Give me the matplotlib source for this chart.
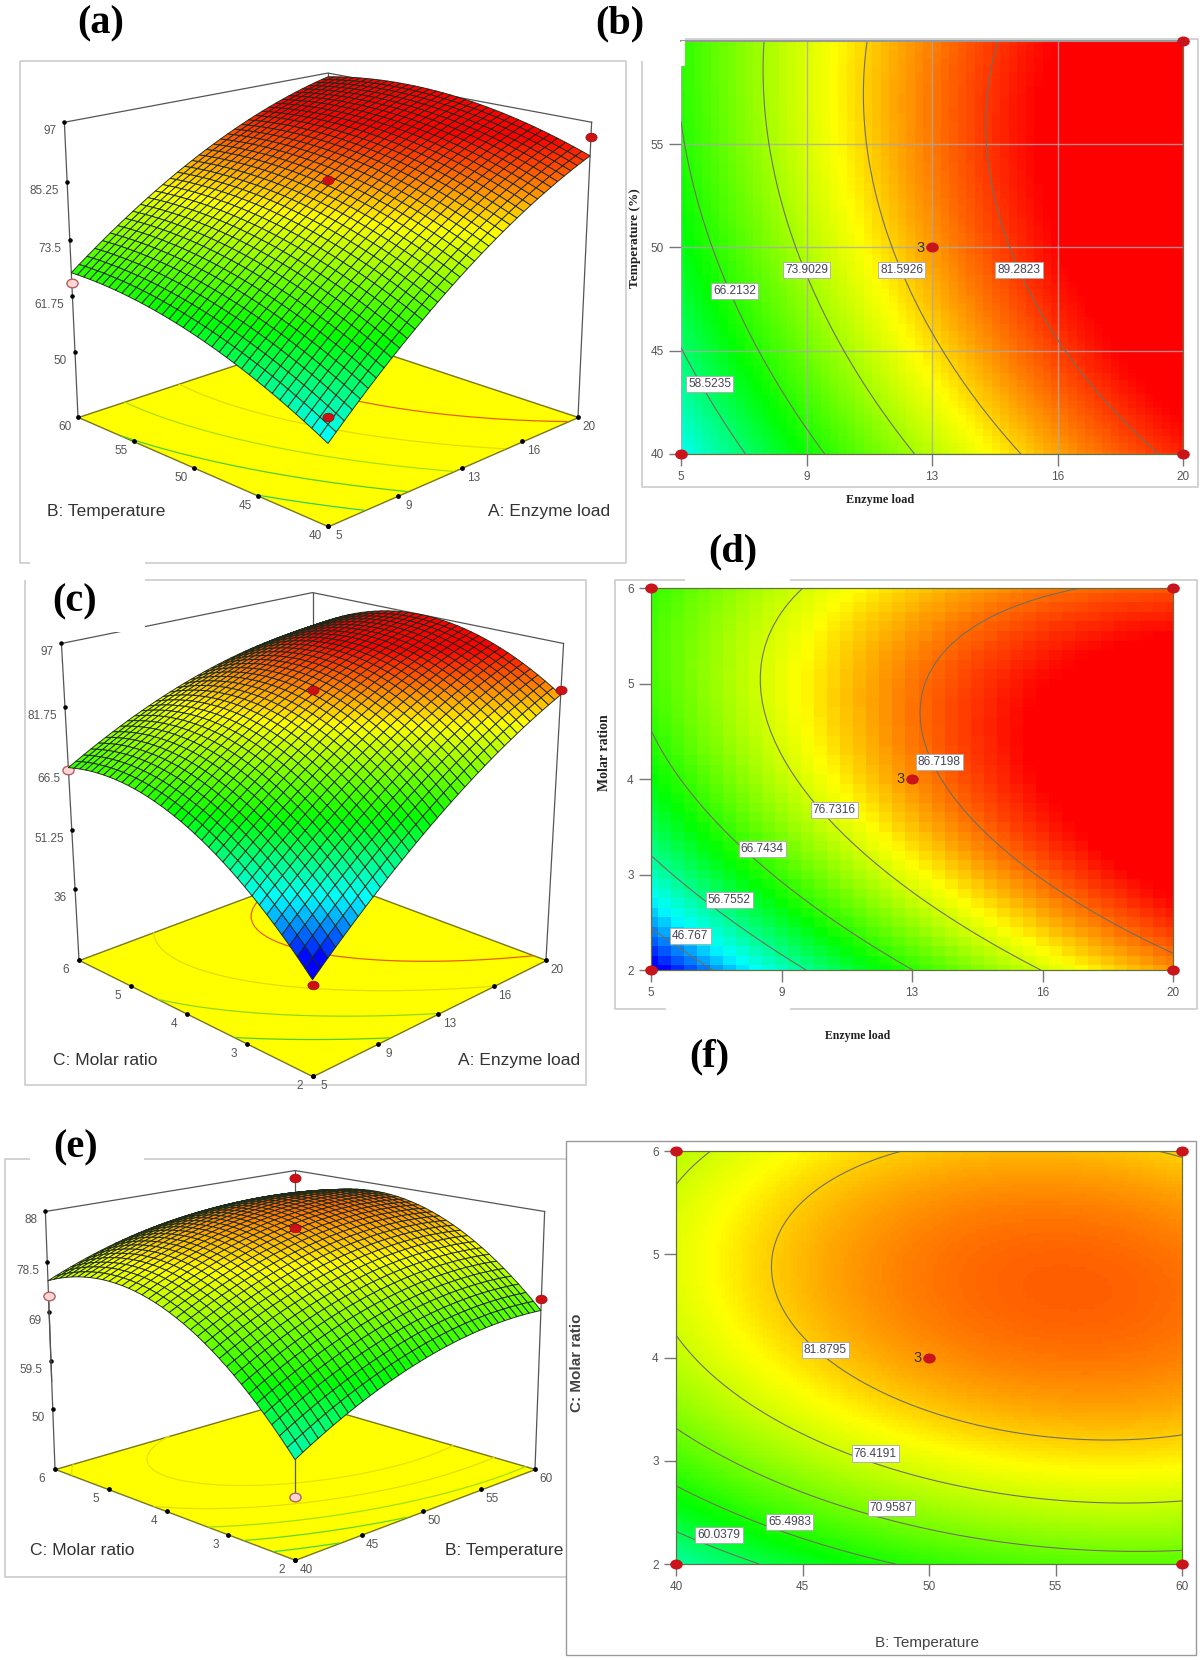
# encoding=utf-8
import matplotlib
matplotlib.use('Agg')
import matplotlib.pyplot as plt
import numpy as np
from matplotlib.colors import LinearSegmentedColormap, Normalize
from matplotlib.patches import Rectangle
from matplotlib.path import Path
from matplotlib.transforms import Affine2D
from mpl_toolkits.mplot3d import proj3d

W, H = 1200, 1660

# factor levels, tick labels are rounded the way the picture shows them
enzyme = [5, 8.75, 12.5, 16.25, 20]
enzyme_labels = ['5', '9', '13', '16', '20']
temperature = [40, 45, 50, 55, 60]
temperature_labels = ['40', '45', '50', '55', '60']
molar = [2, 3, 4, 5, 6]
molar_labels = ['2', '3', '4', '5', '6']

# response, rows go with the y factor, columns with x
yield_ab = [[51.5, 64.0, 75.5, 84.5, 90.5],
            [58.0, 71.0, 81.0, 88.8, 94.0],
            [63.5, 75.0, 84.3, 91.7, 97.0],
            [66.2, 77.0, 85.8, 93.0, 98.0],
            [66.5, 77.2, 85.3, 92.0, 96.5]]
yield_ac = [[41.0, 53.0, 66.0, 76.5, 85.0],
            [55.0, 66.5, 79.5, 88.5, 93.5],
            [62.5, 75.2, 85.2, 92.5, 96.5],
            [69.0, 78.5, 85.8, 91.5, 94.5],
            [66.5, 75.8, 82.5, 85.5, 88.0]]
yield_bc = [[55.5, 63.0, 66.0, 68.5, 69.5],
            [68.0, 74.0, 78.0, 80.0, 79.5],
            [75.0, 81.0, 85.0, 86.5, 86.0],
            [77.5, 83.0, 86.0, 87.0, 86.5],
            [75.5, 79.5, 82.0, 83.0, 81.0]]

levels_b = [58.5235, 66.2132, 73.9029, 81.5926, 89.2823]
levels_d = [46.767, 56.7552, 66.7434, 76.7316, 86.7198]
levels_f = [60.0379, 65.4983, 70.9587, 76.4191, 81.8795]

# colours of the contour lines on the yellow floors
floor_a = ['#30d060', '#50d020', '#a8e000', '#e8d800', '#e86000']
floor_c = ['#50d020', '#90d810', '#e8d800', '#e86000']
floor_e = ['#40d840', '#60d820', '#a0e000', '#e0e000', '#ece000']

# contour label anchors
label_x_b = [5.86, 6.6, 8.75, 11.6, 15.1]
label_y_b = [43.4, 47.9, 48.9, 48.9, 48.9]
label_x_d = [6.13, 7.25, 8.2, 10.26, 13.28]
label_y_d = [2.36, 2.73, 3.27, 3.68, 4.18]
label_x_f = [41.7, 44.5, 48.5, 47.87, 45.9]
label_y_f = [2.28, 2.41, 2.54, 3.07, 4.07]

# design points in the 3D views: x, y, z, filled
points_a = [(5, 40, 56.5, True), (20, 40, 94, True), (5, 60, 64.5, False), (12.5, 50, 85.5, True)]
points_c = [(5, 2, 38.5, True), (20, 2, 86, True), (5, 6, 66.5, False), (12.5, 4, 86, True)]
points_e = [(40, 2, 49, False), (60, 2, 71.5, True), (40, 6, 72, False), (50, 4, 85, True), (60, 6, 86.5, True)]

ztick_a = [50, 61.75, 73.5, 85.25, 97]
ztick_c = [36, 51.25, 66.5, 81.75, 97]
ztick_e = [50, 59.5, 69, 78.5, 88]

plt.rcParams['font.family'] = ['Liberation Sans', 'DejaVu Sans']

stops = [41, 51, 64, 79.5, 92]
cols = ['#0000ff', '#00ffff', '#00ff00', '#ffff00', '#ff0000']
norm = Normalize(stops[0], stops[-1])
cm = LinearSegmentedColormap.from_list('de', [((s - stops[0]) / (stops[-1] - stops[0]), c) for s, c in zip(stops, cols)])
oval = Path.unit_circle().transformed(Affine2D().scale(1.3, 1))

fig = plt.figure(figsize=(W / 100, H / 100), dpi=100, facecolor='w')
bg = fig.add_axes([0, 0, 1, 1], zorder=0)
ov = fig.add_axes([0, 0, 1, 1], zorder=10)
for a in (bg, ov):
    a.set_xlim(0, W)
    a.set_ylim(H, 0)
    a.set_axis_off()
    a.patch.set_visible(False)


def smooth_mesh(grid, xs, ys, n):
    # the chart is a second order response surface, so the read grid is
    # resampled through a least squares quadratic for drawing the fine mesh
    gx, gy = np.meshgrid(xs, ys)
    def terms(a, b):
        return np.column_stack([np.ones(a.size), a, b, a * b, a * a, b * b])
    coef = np.linalg.lstsq(terms(gx.ravel(), gy.ravel()), np.array(grid, float).ravel(), rcond=None)[0]
    fx, fy = np.meshgrid(np.linspace(xs[0], xs[-1], n), np.linspace(ys[0], ys[-1], n))
    return fx, fy, (terms(fx.ravel(), fy.ravel()) @ coef).reshape(fx.shape)


def to_px(ax, x, y, z):
    M = ax.get_proj()
    a, b, _ = proj3d.proj_transform(x, y, z, M)
    d = ax.transData.transform((a, b))
    return d[0], H - d[1]


def set_square(ax, cx, cy, s):
    ax.set_position([(cx - s / 2) / W, 1 - (cy + s / 2) / H, s / W, s / H])
    ax.apply_aspect()


def fit_view(ax, x, y, zf, left, right):
    # scale and move the square axes until the floor corners land on the target pixels
    cx, cy, s = 300.0, 300.0, 600.0
    set_square(ax, cx, cy, s)
    for i in range(3):
        p0 = to_px(ax, x[0], y[-1], zf)
        p1 = to_px(ax, x[-1], y[0], zf)
        s = s * (right[0] - left[0]) / (p1[0] - p0[0])
        set_square(ax, cx, cy, s)
        p0 = to_px(ax, x[0], y[-1], zf)
        cx += left[0] - p0[0]
        cy += left[1] - p0[1]
        set_square(ax, cx, cy, s)


def panel_3d(grid, x, y, xl, yl, zf, zt, zticks, levels, floor_cols, points, elev, focal, hz, left, right, stem=False):
    ax = fig.add_axes([0, 0, .5, .5], projection='3d', computed_zorder=False, zorder=1)
    ax.set_proj_type('persp', focal_length=focal)
    ax.view_init(elev=elev, azim=225)
    ax.set_box_aspect((1, 1, hz))
    ax.set_xlim(x[0], x[-1])
    ax.set_ylim(y[0], y[-1])
    ax.set_zlim(zf, zt)
    ax.set_axis_off()
    ax.patch.set_visible(False)
    fit_view(ax, x, y, zf, left, right)
    X, Y, Z = smooth_mesh(grid, x, y, 37)
    # floor and floor contours
    fx, fy = np.meshgrid([x[0], x[-1]], [y[0], y[-1]])
    ax.plot_surface(fx, fy, np.full(fx.shape, zf), color='#ffff00', shade=False, edgecolor='#77771c', linewidth=1, zorder=1)
    ax.contour(X, Y, Z, levels=levels, zdir='z', offset=zf, colors=floor_cols, linewidths=.9, zorder=1.5)
    # walls
    wall = '#555555'
    ax.plot([x[0], x[0], x[-1], x[-1]], [y[-1], y[-1], y[-1], y[0]], [zf, zt, zt, zt], color=wall, lw=.9, zorder=2)
    ax.plot([x[-1], x[-1]], [y[0], y[0]], [zf, zt], color=wall, lw=.9, zorder=2)
    ax.plot([x[-1], x[-1]], [y[-1], y[-1]], [zf, zt], color=wall, lw=.9, zorder=2)
    # tick dots
    ax.scatter([x[0]] * 5, [y[-1]] * 5, zticks, c='k', s=5, depthshade=False, zorder=2.2)
    ax.scatter(x, [y[0]] * 5, [zf] * 5, c='k', s=6, depthshade=False, zorder=2.2)
    ax.scatter([x[0]] * 5, y, [zf] * 5, c='k', s=6, depthshade=False, zorder=2.2)
    for p in points:
        if not p[3]:
            ax.scatter([p[0]], [p[1]], [p[2]], s=65, marker=oval, c='#ffd5d5', edgecolors='#b06060', depthshade=False, zorder=2.5)
            if stem:
                ax.plot([p[0], p[0]], [p[1], p[1]], [p[2], Z[0, 0]], color=wall, lw=.9, zorder=2.4)
    ax.plot_surface(X, Y, Z, facecolors=cm(norm(Z)), rstride=1, cstride=1, shade=False, edgecolor='#1a2a1a', linewidth=.65, zorder=3)
    for p in points:
        if p[3]:
            ax.scatter([p[0]], [p[1]], [p[2]], s=65, marker=oval, c='#d00f14', edgecolors='#8a1010', linewidths=.5, depthshade=False, zorder=4)
    # tick labels go in pixels next to the projected ticks
    tc = '#555555'
    for v in zticks:
        a, b = to_px(ax, x[0], y[-1], v)
        ov.text(a - 8, b + 9, '%g' % v, ha='right', va='center', fontsize=8.5, color=tc)
    for v, s in zip(y, yl):
        a, b = to_px(ax, x[0], v, zf)
        ov.text(a - 13, b + 10, s, ha='center', va='center', fontsize=8.5, color=tc)
    for v, s in zip(x, xl):
        a, b = to_px(ax, v, y[0], zf)
        ov.text(a + 11, b + 10, s, ha='center', va='center', fontsize=8.5, color=tc)
    return ax


def panel_2d(grid, x, y, xl, yl, levels, lx, ly, box, n, grid_lines=False, hide_corner=False):
    l, t, r, b = box
    ax = fig.add_axes([l / W, 1 - b / H, (r - l) / W, (b - t) / H], zorder=2)
    X, Y, Z = smooth_mesh(grid, x, y, n)
    ax.pcolormesh(X, Y, Z, cmap=cm, norm=norm, shading='nearest')
    ax.contour(X, Y, Z, levels=levels, colors='#70705f', linewidths=.8)
    ax.set_xlim(x[0], x[-1])
    ax.set_ylim(y[0], y[-1])
    ax.set_xticks(x, xl)
    ax.set_yticks(y[:-1] if hide_corner else y, yl[:-1] if hide_corner else yl)
    ax.tick_params(length=8.5, width=1, color='#777777', labelcolor='#555555', labelsize=8.5, pad=4)
    if grid_lines:
        ax.grid(True, color='#aaaaaa', lw=1, alpha=.8)
    for s in ax.spines.values():
        s.set_color('#667040')
        s.set_linewidth(.9)
    for a, c, v in zip(lx, ly, levels):
        ax.text(a, c, ('%.4f' % v).rstrip('0'), ha='center', va='center', fontsize=8.6, color='#444455', zorder=5,
                bbox=dict(fc='w', ec='#aaaaaa', lw=.6, pad=1.5))
    cx, cy = (x[0] + x[-1]) / 2, (y[0] + y[-1]) / 2
    px = [x[0], x[-1], x[-1]] if hide_corner else [x[0], x[-1], x[0], x[-1]]
    py = [y[0], y[0], y[-1]] if hide_corner else [y[0], y[0], y[-1], y[-1]]
    ax.scatter(px, py, s=65, marker=oval, c='#c8141a', clip_on=False, zorder=6)
    ax.scatter([cx], [cy], s=65, marker=oval, c='#c8141a', clip_on=False, zorder=6)
    ax.text(cx - (x[-1] - x[0]) * .014, cy, '3', ha='right', va='center', fontsize=10.5, color='#333333', zorder=6)
    if hide_corner:
        ax.spines['left'].set_visible(False)
        ax.spines['top'].set_color('#999999')
        ax.spines['top'].set_linewidth(1.5)
    return ax


def line(a, xs, ys, color='#cccccc', lw=1.2, z=1):
    a.plot(xs, ys, color=color, lw=lw, zorder=z, solid_capstyle='butt')


# frames behind the panels
line(bg, [20, 20, 30], [61, 563, 563])
line(bg, [20, 626, 626, 145], [61, 61, 563, 563])
line(bg, [642, 642, 1198, 1198, 685], [61, 487, 487, 39, 39])
line(bg, [25, 25, 586, 586, 145], [580, 1085, 1085, 580, 580])
line(bg, [790, 1197, 1197, 790], [580, 580, 1009, 1009])
line(bg, [666, 615, 615, 685], [1009, 1009, 580, 580])
line(bg, [30, 5, 5, 567], [1159, 1159, 1577, 1577])
line(bg, [144, 567], [1159, 1159])

panel_3d(yield_ab, enzyme, temperature, enzyme_labels, temperature_labels, 36, 97, ztick_a, levels_b, floor_a, points_a,
         17.3, .55, .85, (78, 417), (578, 416))
panel_3d(yield_ac, enzyme, molar, enzyme_labels, molar_labels, 17, 97, ztick_c, levels_d[1:], floor_c, points_c,
         19.5, .5, .98, (79, 960), (546, 960))
panel_3d(yield_bc, temperature, molar, temperature_labels, molar_labels, 38, 88, ztick_e, levels_f, floor_e, points_e,
         15, .6, .77, (55, 1469), (535, 1469), stem=True)

# white patches that the (c) and (e) labels sit on in the picture
ov.add_patch(Rectangle((27, 582), 118, 50, fc='w', ec='none', zorder=1))
ov.add_patch(Rectangle((30, 1125), 114, 40, fc='w', ec='none', zorder=1))

side = dict(fontsize=12.5, color='#333333', ha='center', va='center', zorder=3)
ov.text(106, 511, 'B: Temperature', **side)
ov.text(549, 511, 'A: Enzyme load', **side)
ov.text(105, 1060, 'C: Molar ratio', **side)
ov.text(519, 1060, 'A: Enzyme load', **side)
ov.text(82, 1550, 'C: Molar ratio', **side)
ov.text(504, 1550, 'B: Temperature', **side)

# panel f frame covers the end of the neighbouring label
ov.add_patch(Rectangle((566.5, 1530), 40, 40, fc='w', ec='none', zorder=3.5))
ov.add_patch(Rectangle((566, 1141), 630, 514, fc='none', ec='#999999', lw=1, zorder=4))

ax_b = panel_2d(yield_ab, enzyme, temperature, enzyme_labels, temperature_labels, levels_b, label_x_b, label_y_b, (681, 41, 1183, 454), 60, True, True)
# the colour field starts a little to the right at the top left corner
ax_b.add_patch(Rectangle((0, .94), .008, .06, transform=ax_b.transAxes, fc='w', ec='none', zorder=4))
panel_2d(yield_ac, enzyme, molar, enzyme_labels, molar_labels, levels_d, label_x_d, label_y_d, (651, 588, 1173, 970), 41)
panel_2d(yield_bc, temperature, molar, temperature_labels, molar_labels, levels_f, label_x_f, label_y_f, (676, 1151, 1182, 1564), 120)

serif = dict(family=['Liberation Serif', 'DejaVu Serif'], fontweight='bold', ha='center', va='center', color='#222222')
ov.text(880, 500, 'Enzyme load', fontsize=8.8, **serif)
ov.text(635, 238, 'Temperature (%)', fontsize=9.5, rotation=90, **serif)
ov.text(858, 1036, 'Enzyme load', fontsize=8.5, **serif)
ov.text(604, 753, 'Molar ration', fontsize=10, rotation=90, **serif)
ov.text(927, 1643, 'B: Temperature', fontsize=11, color='#444444', ha='center', va='center')
ov.text(577, 1363, 'C: Molar ratio', fontsize=11, color='#444444', ha='center', va='center', rotation=90, fontweight='bold')

big = dict(family=['Liberation Serif', 'DejaVu Serif'], fontweight='bold', fontsize=29, color='k', ha='center', va='center', zorder=6)
ov.text(101, 24, '(a)', **big)
ov.text(620, 24, '(b)', **big)
ov.text(75, 602, '(c)', **big)
ov.text(733, 552, '(d)', **big)
ov.text(76, 1148, '(e)', **big)
ov.text(709, 1057, '(f)', **big)

fig.savefig('out.png', dpi=100)
